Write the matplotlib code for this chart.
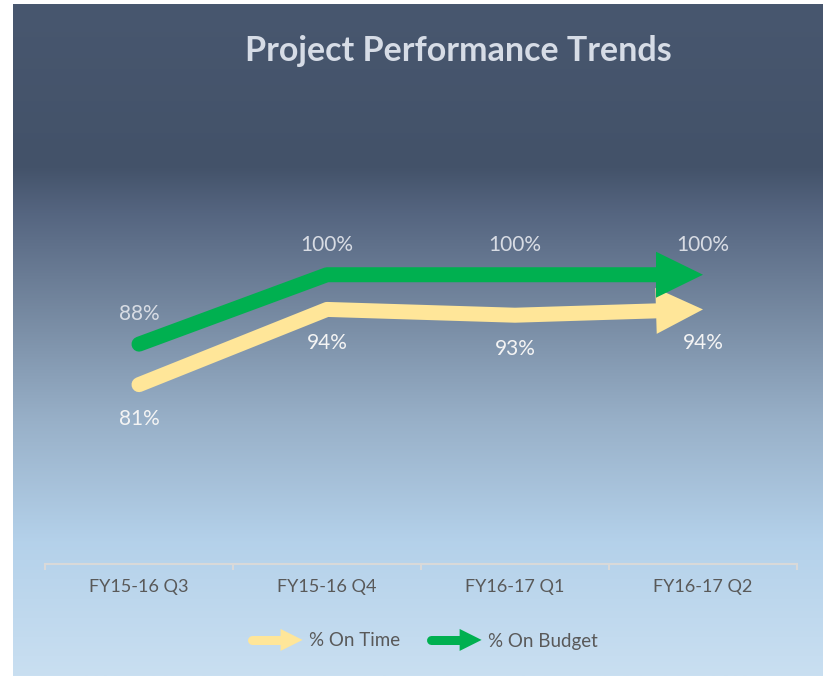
import numpy as np
import matplotlib
matplotlib.use("Agg")
import matplotlib.pyplot as plt
from matplotlib.lines import Line2D
from matplotlib.patches import Polygon
from matplotlib.legend_handler import HandlerBase
from matplotlib.colors import to_rgb

categories = ["FY15-16 Q3", "FY15-16 Q4", "FY16-17 Q1", "FY16-17 Q2"]
on_time = [81, 94, 93, 94]
on_budget = [88, 100, 100, 100]
series_names = ["% On Time", "% On Budget"]

YELLOW = "#ffe699"
GREEN = "#00b050"
DPI = 100
W, H = 823, 676

plt.rcParams['font.family'] = ['Lato', 'DejaVu Sans']


def px(v):
    # pixels -> points
    return v * 72.0 / DPI


def gradient_image(stops, n=400):
    pos = np.array([s[0] for s in stops])
    cols = np.array([to_rgb(s[1]) for s in stops])
    t = np.linspace(0, 1, n)
    img = np.stack([np.interp(t, pos, cols[:, c]) for c in range(3)], axis=1)
    return img[:, None, :]


def draw_arrow(ax, xs, ys, color, z, lw_px=15, head_len=47, head_w=46):
    pts = ax.transData.transform(np.column_stack([xs, ys]))
    tip = pts[-1]
    d = tip - pts[-2]
    d = d / np.hypot(*d)
    n = np.array([-d[1], d[0]])
    base = tip - d * head_len
    inv = ax.transData.inverted()
    lp = inv.transform(np.vstack([pts[:-1], base]))
    ax.plot(lp[:, 0], lp[:, 1], color=color, lw=px(lw_px),
            solid_capstyle='round', solid_joinstyle='round', zorder=z)
    head = np.array([tip, base + n * head_w / 2, base - n * head_w / 2])
    ax.add_patch(Polygon(inv.transform(head), closed=True, facecolor=color,
                         edgecolor='none', zorder=z))


class ArrowHandler(HandlerBase):
    def create_artists(self, legend, orig_handle, xdescent, ydescent,
                       width, height, fontsize, trans):
        color = orig_handle.get_color()
        y = height / 2 - ydescent
        x0 = -xdescent
        x1 = x0 + width
        lw = px(9)
        hl = px(22)
        hw = px(11)
        line = Line2D([x0 + lw / 2, x1 - hl], [y, y], color=color, lw=lw,
                      solid_capstyle='round', transform=trans)
        head = Polygon([(x1 - hl, y + hw), (x1, y), (x1 - hl, y - hw)],
                       closed=True, facecolor=color, edgecolor='none',
                       transform=trans)
        return [line, head]


fig = plt.figure(figsize=(W / DPI, H / DPI), dpi=DPI)
fig.patch.set_facecolor('white')

# background panel with vertical gradient
bg = fig.add_axes([13 / W, 0, 1 - 13 / W, 672 / H], zorder=0)
bg_stops = [
    (0.00, "#48576f"),
    (0.24, "#435269"),
    (0.31, "#556580"),
    (0.45, "#74879f"),
    (0.62, "#98b0c8"),
    (0.80, "#b4d1ea"),
    (1.00, "#c9dff1"),
]
bg.imshow(gradient_image(bg_stops), aspect='auto', extent=[0, 1, 0, 1])
bg.axis('off')

# plot area
ax_bottom, ax_top = 564, 159
ax = fig.add_axes([45 / W, (H - ax_bottom) / H, 752 / W, (ax_bottom - ax_top) / H],
                  zorder=1)
ax.patch.set_alpha(0)
ax.set_xlim(-0.5, len(categories) - 0.5)
ax.set_ylim(50, 120)

x = np.arange(len(categories))
draw_arrow(ax, x, on_time, YELLOW, z=3)
draw_arrow(ax, x, on_budget, GREEN, z=4)

for i, v in enumerate(on_budget):
    ax.annotate(f"{v}%", (x[i], v), xytext=(0, px(30)), textcoords='offset points',
                ha='center', va='center', fontsize=15, color='#d8dce4')
for i, v in enumerate(on_time):
    ax.annotate(f"{v}%", (x[i], v), xytext=(0, -px(34)), textcoords='offset points',
                ha='center', va='center', fontsize=15, color='#f4f4f4')

for s in ['top', 'left', 'right']:
    ax.spines[s].set_visible(False)
ax.spines['bottom'].set_color('#d9d9d9')
ax.spines['bottom'].set_linewidth(1.5)
ax.set_yticks([])
ax.set_xticks(x, categories)
ax.set_xticks(np.arange(len(categories) + 1) - 0.5, minor=True)
ax.tick_params(axis='x', which='major', length=0, pad=px(15),
               labelsize=13, labelcolor='#595959')
ax.tick_params(axis='x', which='minor', length=px(6), width=1.5,
               color='#d9d9d9', direction='out')

fig.text(458 / W, 1 - 51 / H, "Project Performance Trends", ha='center',
         va='center', fontsize=24.5, fontweight='bold', color='#d6dce6')

handles = [Line2D([], [], color=YELLOW), Line2D([], [], color=GREEN)]
fig.legend(handles, series_names, handler_map={Line2D: ArrowHandler()},
           loc='center', bbox_to_anchor=(422.5 / W, 1 - 641 / H), ncol=2,
           frameon=False, fontsize=13.5, labelcolor='#595959',
           handlelength=2.93, handletextpad=0.32, columnspacing=1.44)

fig.savefig("out.png", dpi=DPI)
